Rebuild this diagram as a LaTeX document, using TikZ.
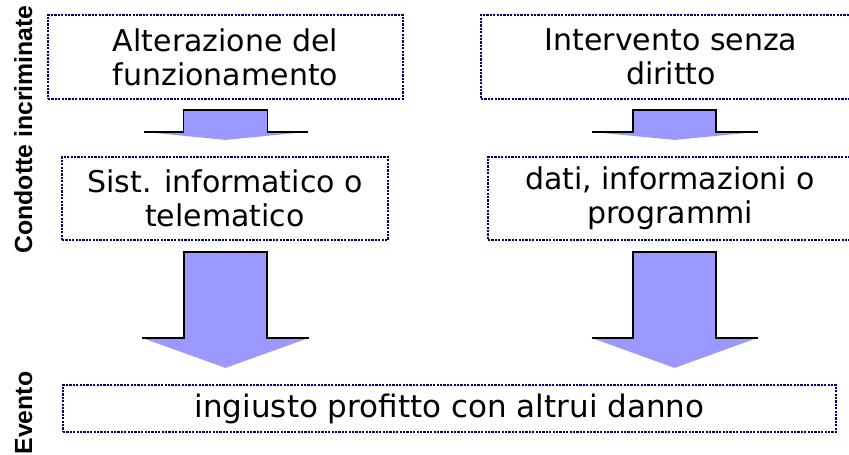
\documentclass[tikz,border=0pt]{standalone}
\usepackage{fontspec}
\setmainfont{DejaVu Sans}
\newfontfamily\labfont{Liberation Sans}
\usetikzlibrary{calc}
\definecolor{boxblue}{RGB}{0,0,128}
\definecolor{arrowblue}{RGB}{153,153,255}
\tikzset{
  txtbox/.style={draw=boxblue, line width=2.2pt, dash pattern=on 2.2pt off 1.2pt,
    inner sep=0pt, align=center, font=\fontsize{30}{34}\selectfont},
  sidelabel/.style={rotate=90, anchor=base, font=\labfont\bfseries\fontsize{24.8}{28}\selectfont},
  arrowfill/.style={fill=arrowblue},
  arrowline/.style={draw=black, line width=1.6pt, line join=miter}
}
\newcommand\blkarrow[5]{%
  \fill[arrowfill] let \p1=(#1), \p2=(#2) in
    (\x1-#3pt,\y1) -- (\x1+#3pt,\y1) -- (\x1+#3pt,\y2+#5pt) -- (\x1+#4pt,\y2+#5pt)
    -- (\x1,\y2) -- (\x1-#4pt,\y2+#5pt) -- (\x1-#3pt,\y2+#5pt) -- cycle;
  \draw[arrowline] let \p1=(#1), \p2=(#2) in
    (\x1-#4pt,\y2+#5pt) -- (\x1-#3pt,\y2+#5pt) -- (\x1-#3pt,\y1) -- (\x1+#3pt,\y1)
    -- (\x1+#3pt,\y2+#5pt) -- (\x1+#4pt,\y2+#5pt);
}
\begin{document}
\begin{tikzpicture}[x=1pt,y=-1pt]
\useasboundingbox (0,0) rectangle (849,455);
% boxes
\node[txtbox, minimum width=355pt, minimum height=84pt] (b1) at (225.5,57) {Alterazione del\\funzionamento};
\node[txtbox, minimum width=380pt, minimum height=84pt] (b2) at (671,57) {Intervento senza\\diritto};
\node[txtbox, minimum width=326pt, minimum height=83pt] (b3) at (225,198.5) {Sist. informatico o\\telematico};
\node[txtbox, minimum width=364pt, minimum height=83pt] (b4) at (670,198.5) {dati, informazioni o\\programmi};
\node[txtbox, minimum width=773pt, minimum height=47pt, font=\fontsize{31}{35}\selectfont] (b5) at (449.5,408.5) {ingiusto profitto con altrui danno};
% side labels
\node[sidelabel] (l1) at (32,129.5) {Condotte incriminate};
\node[sidelabel] (l2) at (32,413) {Evento};
% arrow coordinates
\coordinate (a1t) at ($(b1.south)+(0,10)$);
\coordinate (a1e) at ($(b3.north)+(0.5,-16)$);
\coordinate (a2t) at ($(b2.south)+(3.5,10)$);
\coordinate (a2e) at ($(b4.north)+(4.5,-16)$);
\coordinate (a3t) at ($(b3.south)+(0.5,11)$);
\coordinate (a3e) at ($(b5.north)+(-224,-16)$);
\coordinate (a4t) at ($(b4.south)+(4.5,11)$);
\coordinate (a4e) at ($(b5.north)+(225,-16)$);
\blkarrow{a1t}{a1e}{42}{82}{8}
\blkarrow{a2t}{a2e}{41.5}{83}{8}
\blkarrow{a3t}{a3e}{41.5}{83.5}{30}
\blkarrow{a4t}{a4e}{41.5}{83}{30}
\end{tikzpicture}
\end{document}
